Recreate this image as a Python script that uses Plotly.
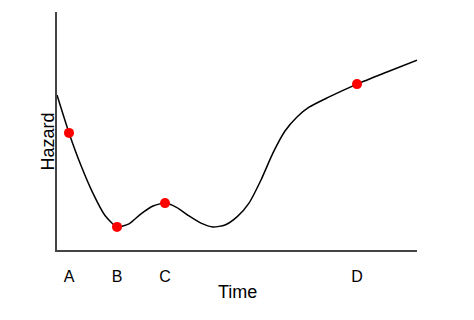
import plotly.graph_objects as go

# Hazard curve (time units, hazard units)
curve_time = [0, 1, 2, 3, 4, 5, 6, 7, 8, 9, 10, 11, 12, 13, 14, 15, 16, 17, 18,
              19, 20, 21, 22.5, 25, 27.5, 30]
curve_hazard = [6.51, 4.92, 3.55, 2.38, 1.45, 0.97, 1.10, 1.52, 1.85, 1.97, 1.78,
                1.43, 1.13, 0.97, 1.05, 1.39, 1.97, 2.94, 4.08, 5.0, 5.59, 6.0,
                6.39, 6.97, 7.48, 7.98]

point_labels = ["A", "B", "C", "D"]
point_time = [1, 5, 9, 25]
point_hazard = [4.92, 0.97, 1.97, 6.97]

fig = go.Figure()
fig.add_trace(go.Scatter(
    x=curve_time, y=curve_hazard, mode="lines",
    line=dict(color="black", width=1.5, shape="spline", smoothing=0.6),
    hoverinfo="skip", showlegend=False))
fig.add_trace(go.Scatter(
    x=point_time, y=point_hazard, mode="markers",
    marker=dict(color="#ff0000", size=10),
    showlegend=False))

font = "Liberation Sans, Arial, sans-serif"
fig.update_layout(
    width=474, height=320,
    margin=dict(l=57, r=57, t=12, b=70),
    paper_bgcolor="white", plot_bgcolor="white",
    font=dict(family=font, color="black"),
    xaxis=dict(range=[0, 30], showgrid=False, zeroline=False,
               showline=True, linecolor="#444444", linewidth=2,
               tickmode="array", tickvals=point_time, ticktext=point_labels,
               ticks="outside", ticklen=11, tickcolor="rgba(0,0,0,0)",
               tickfont=dict(size=16, family=font)),
    yaxis=dict(range=[0, 10], showgrid=False, zeroline=False,
               showline=True, linecolor="#444444", linewidth=2,
               showticklabels=False, ticks=""),
    annotations=[
        dict(text="Time", xref="paper", yref="paper", x=0.5, y=-42/238,
             xanchor="center", yanchor="middle", showarrow=False,
             font=dict(size=18, family=font, color="black")),
        dict(text="Hazard", xref="paper", yref="paper", x=-9.5/360, y=108/238,
             xanchor="center", yanchor="middle", showarrow=False, textangle=-90,
             font=dict(size=18, family=font, color="black")),
    ],
)

fig.write_html("out.html")
